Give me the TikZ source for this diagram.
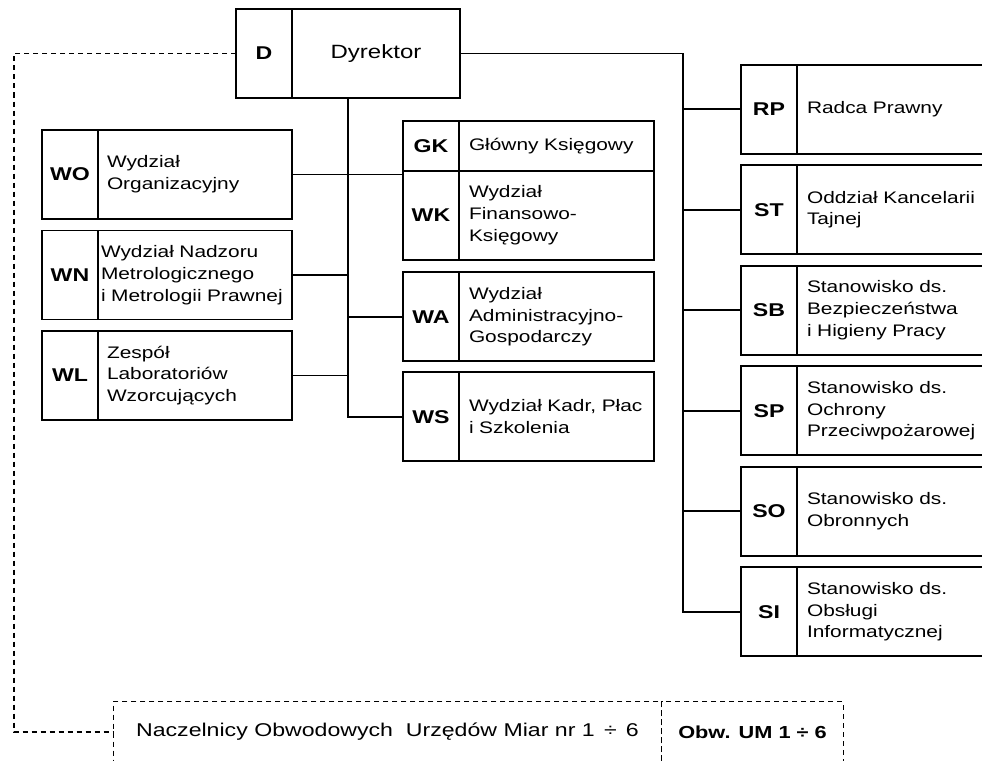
\documentclass[tikz,border=0pt]{standalone}
\usepackage{fontspec}
\setmainfont{Liberation Sans}[FakeStretch=1.25]
\usetikzlibrary{positioning}

\tikzset{
  unit/.style={draw, line width=1.9pt, outer sep=0pt, inner sep=0pt,
    minimum width=56pt, minimum height=89pt,
    font=\fontsize{18.5}{22}\selectfont\bfseries},
  unitname/.style={draw, line width=1.9pt, outer sep=0pt, inner xsep=9pt,
    minimum height=89pt, text width=#1, align=left,
    font=\fontsize{16.7}{21.7}\selectfont},
  headname/.style={draw, line width=1.9pt, outer sep=0pt,
    minimum width=168pt, minimum height=89pt,
    font=\fontsize{19.2}{22}\selectfont},
  link/.style={line width=1.9pt},
  dashline/.style={line width=1.3pt, dash pattern=on 5pt off 4pt},
  dashbox/.style={draw, dashline, outer sep=0pt, minimum height=60.3pt,
    font=\fontsize{18.5}{20}\selectfont},
}

\begin{document}
\begin{tikzpicture}[x=1pt, y=-1pt]
\useasboundingbox (0,0) rectangle (982,760);

%Declare nodes.
\node[unit] (D) at (264,53.5) {D};
\node[headname, right=0pt of D] (dyr) {Dyrektor};

\node[unit] (WO) at (70,174.5) {WO};
\node[unitname=176pt, right=0pt of WO] (WOn) {Wydział\\Organizacyjny};
\node[unit, below=11.5pt of WO] (WN) {WN};
\node[unitname=188pt, inner xsep=3pt, right=0pt of WN] (WNn) {Wydział Nadzoru\\Metrologicznego\\i Metrologii Prawnej};
\node[unit, below=11.5pt of WN] (WL) {WL};
\node[unitname=176pt, right=0pt of WL] (WLn) {Zespół\\Laboratoriów\\Wzorcujących};

\node[unit, minimum height=50pt] (GK) at (431,145.7) {GK};
\node[unitname=175pt, inner xsep=10pt, minimum height=50pt, right=0pt of GK] (GKn) {Główny Księgowy};
\node[unit, below=0pt of GK] (WK) {WK};
\node[unitname=175pt, inner xsep=10pt, right=0pt of WK] (WKn) {Wydział\\Finansowo-\\Księgowy};
\node[unit, below=12.5pt of WK] (WA) {WA};
\node[unitname=175pt, inner xsep=10pt, right=0pt of WA] (WAn) {Wydział\\Administracyjno-\\Gospodarczy};
\node[unit, below=11pt of WA] (WS) {WS};
\node[unitname=175pt, inner xsep=10pt, right=0pt of WS] (WSn) {Wydział Kadr, Płac\\i Szkolenia};

\node[unit] (RP) at (769,109.2) {RP};
\node[unitname=180pt, inner xsep=10pt, right=0pt of RP] (RPn) {Radca Prawny};
\node[unit, below=11.5pt of RP] (ST) {ST};
\node[unitname=180pt, inner xsep=10pt, right=0pt of ST] (STn) {Oddział Kancelarii\\Tajnej};
\node[unit, below=11.5pt of ST] (SB) {SB};
\node[unitname=180pt, inner xsep=10pt, right=0pt of SB] (SBn) {Stanowisko ds.\\Bezpieczeństwa\\i Higieny Pracy};
\node[unit, below=11.5pt of SB] (SP) {SP};
\node[unitname=180pt, inner xsep=10pt, right=0pt of SP] (SPn) {Stanowisko ds.\\Ochrony\\Przeciwpożarowej};
\node[unit, below=11.5pt of SP] (SO) {SO};
\node[unitname=180pt, inner xsep=10pt, right=0pt of SO] (SOn) {Stanowisko ds.\\Obronnych};
\node[unit, below=11.5pt of SO] (SI) {SI};
\node[unitname=180pt, inner xsep=10pt, right=0pt of SI] (SIn) {Stanowisko ds.\\Obsługi\\Informatycznej};

\node[dashbox, minimum width=548.4pt] (nacz) at (387.5,731.85) {Naczelnicy Obwodowych\ \ Urzędów Miar nr 1\enspace÷\enspace6};
\node[dashbox, minimum width=181.6pt, font=\fontsize{17.4}{20}\selectfont\bfseries, right=0pt of nacz] (obw) {Obw. UM 1 ÷ 6};

%Setup edges.
\coordinate (lt) at (348,98);
\coordinate (rt) at (683.3,53.5);
\coordinate (lc) at (14,53.5);

\draw[link] (dyr.east) -- (rt) |- (SI.west);
\draw[link] (rt |- RP.west) -- (RP.west);
\draw[link] (rt |- ST.west) -- (ST.west);
\draw[link] (rt |- SB.west) -- (SB.west);
\draw[link] (rt |- SP.west) -- (SP.west);
\draw[link] (rt |- SO.west) -- (SO.west);

\draw[link] (lt) |- (WS.west);
\draw[link] (WOn.east) -- (WOn.east -| WK.west);
\draw[link] (WNn.east) -- (WNn.east -| lt);
\draw[link] (WLn.east) -- (WLn.east -| lt);
\draw[link] (lt |- WA.west) -- (WA.west);

\draw[dashline] (D.west) -- (lc) |- (nacz.west);

\end{tikzpicture}
\end{document}
